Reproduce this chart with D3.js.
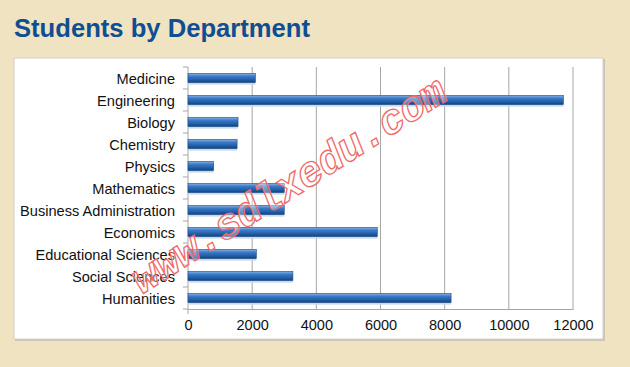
<!DOCTYPE html>
<html>
<head>
<meta charset="utf-8">
<script src="https://cdn.jsdelivr.net/npm/d3@7"></script>
<style>
  body { margin: 0; background: #efe3c1; }
  svg { display: block; }
</style>
</head>
<body>
<div id="chart"></div>
<script>
// Data
const departments = ["Medicine", "Engineering", "Biology", "Chemistry", "Physics", "Mathematics",
    "Business Administration", "Economics", "Educational Sciences", "Social Sciences", "Humanities"];
const students = [2100, 11700, 1560, 1530, 800, 3000, 3000, 5900, 2130, 3270, 8200];
const xTicks = [0, 2000, 4000, 6000, 8000, 10000, 12000];

const width = 630, height = 367;
const margin = { left: 188, right: 57, top: 67, bottom: 58 };

const svg = d3.select("#chart")
    .append("svg")
    .attr("width", width)
    .attr("height", height);

// bar gradient
const defs = svg.append("defs");
const grad = defs.append("linearGradient")
    .attr("id", "barGrad")
    .attr("x1", 0).attr("y1", 0).attr("x2", 0).attr("y2", 1);
grad.append("stop").attr("offset", "0%").attr("stop-color", "#8bb6e6");
grad.append("stop").attr("offset", "30%").attr("stop-color", "#3c7cc8");
grad.append("stop").attr("offset", "70%").attr("stop-color", "#1f5ea8");
grad.append("stop").attr("offset", "100%").attr("stop-color", "#143f78");

// background + title
svg.append("rect")
    .attr("width", width).attr("height", height)
    .attr("fill", "#efe3c1");

svg.append("text")
    .attr("x", 14)
    .attr("y", 37)
    .attr("font-family", "Liberation Sans, Arial, sans-serif")
    .attr("font-weight", "bold")
    .attr("font-size", 25)
    .attr("textLength", 296)
    .attr("lengthAdjust", "spacingAndGlyphs")
    .attr("fill", "#0f4e92")
    .text("Students by Department");

// white chart panel
svg.append("rect")
    .attr("x", 15).attr("y", 59)
    .attr("width", 590).attr("height", 282)
    .attr("fill", "#c9c4b4");
svg.append("rect")
    .attr("x", 14).attr("y", 58)
    .attr("width", 589).attr("height", 281)
    .attr("fill", "#ffffff")
    .attr("stroke", "#d4d0c4")
    .attr("stroke-width", 1);

// Scales
const x = d3.scaleLinear()
    .domain([0, 12000])
    .range([margin.left, width - margin.right]);

const y = d3.scaleBand()
    .domain(departments)
    .range([margin.top, height - margin.bottom])
    .paddingInner(0.58)
    .paddingOuter(0.29);

const yTop = margin.top, yBottom = height - margin.bottom;

// gridlines
svg.append("g")
    .selectAll("line")
    .data(xTicks.filter(d => d > 0))
    .enter()
    .append("line")
    .attr("x1", d => x(d)).attr("x2", d => x(d))
    .attr("y1", yTop).attr("y2", yBottom)
    .attr("stroke", "#a6a6a6")
    .attr("stroke-width", 1);

// bottom axis
const xAxis = svg.append("g")
    .attr("transform", `translate(0,${yBottom})`)
    .call(d3.axisBottom(x).tickValues(xTicks).tickSize(0).tickPadding(11).tickFormat(d3.format("d")));
xAxis.select(".domain").attr("stroke", "#a6a6a6");
xAxis.selectAll("text")
    .attr("font-family", "Liberation Sans, Arial, sans-serif")
    .attr("font-size", 14.5)
    .attr("fill", "#111");

// left axis with ticks at band edges
const step = y.step();
const edges = d3.range(departments.length + 1).map(i => yTop + i * step);
svg.append("line")
    .attr("x1", margin.left).attr("x2", margin.left)
    .attr("y1", yTop).attr("y2", yBottom + 5)
    .attr("stroke", "#a6a6a6");
svg.append("g")
    .selectAll("line")
    .data(edges)
    .enter()
    .append("line")
    .attr("x1", margin.left - 5).attr("x2", margin.left)
    .attr("y1", d => d).attr("y2", d => d)
    .attr("stroke", "#a6a6a6");

svg.append("g")
    .selectAll("text")
    .data(departments)
    .enter()
    .append("text")
    .attr("x", 175)
    .attr("y", d => y(d) + y.bandwidth() / 2 + 1)
    .attr("dy", "0.35em")
    .attr("text-anchor", "end")
    .attr("font-family", "Liberation Sans, Arial, sans-serif")
    .attr("font-size", 14.6)
    .attr("fill", "#111")
    .text(d => d);

// bars
const bars = svg.append("g");
const barData = departments.map((d, i) => ({ name: d, value: students[i] }));

// soft shadow under each bar
bars.selectAll(".shadow")
    .data(barData)
    .enter()
    .append("rect")
    .attr("class", "shadow")
    .attr("x", x(0))
    .attr("y", d => y(d.name) + y.bandwidth())
    .attr("width", d => x(d.value) - x(0))
    .attr("height", 2)
    .attr("fill", "#c7d8ee");

bars.selectAll(".bar")
    .data(barData)
    .enter()
    .append("rect")
    .attr("class", "bar")
    .attr("x", x(0))
    .attr("y", d => y(d.name))
    .attr("width", d => x(d.value) - x(0))
    .attr("height", y.bandwidth())
    .attr("fill", "url(#barGrad)")
    .attr("stroke", "#1a4c8a")
    .attr("stroke-width", 0.6);

// watermark
svg.append("text")
    .attr("transform", "translate(288,184) rotate(-32.5)")
    .attr("text-anchor", "middle")
    .attr("dy", "0.35em")
    .attr("font-family", "Liberation Mono, monospace")
    .attr("font-weight", "bold")
    .attr("font-style", "italic")
    .attr("font-size", 42)
    .attr("textLength", 365)
    .attr("fill", "rgba(255,255,255,0.35)")
    .attr("stroke", "#f06a6a")
    .attr("stroke-width", 1.3)
    .text("www.sdlxedu.com");
</script>
</body>
</html>
